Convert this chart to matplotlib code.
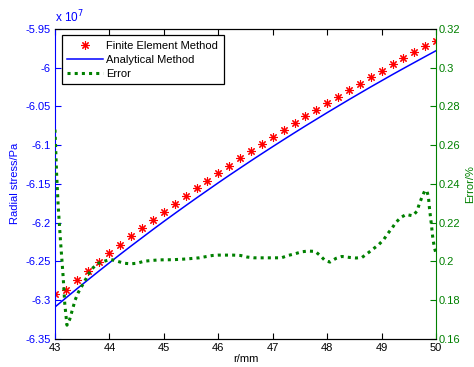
import numpy as np
import matplotlib
matplotlib.use('Agg')
from matplotlib import pyplot as plt
from matplotlib.ticker import FuncFormatter

plt.rcParams['font.family'] = ['Liberation Sans', 'DejaVu Sans']
plt.rcParams['axes.unicode_minus'] = False

# radius (mm) of the FE nodes and the analytical curve
r_nodes = [43.0, 43.2, 43.4, 43.6, 43.8, 44.0, 44.2, 44.4, 44.6, 44.8,
           45.0, 45.2, 45.4, 45.6, 45.8, 46.0, 46.2, 46.4, 46.6, 46.8,
           47.0, 47.2, 47.4, 47.6, 47.8, 48.0, 48.2, 48.4, 48.6, 48.8,
           49.0, 49.2, 49.4, 49.6, 49.8, 50.0]

# radial stress in units of 1e7 Pa
fem_stress = [-6.2922, -6.2867, -6.2743, -6.2623, -6.2505, -6.2393, -6.2285,
              -6.2177, -6.2071, -6.1965, -6.1861, -6.1759, -6.1658, -6.1558,
              -6.1459, -6.1361, -6.1265, -6.1172, -6.1079, -6.0987, -6.0896,
              -6.0806, -6.0716, -6.0627, -6.0542, -6.0459, -6.0374, -6.0290,
              -6.0208, -6.0124, -6.0042, -5.9958, -5.9876, -5.9799, -5.9714,
              -5.9658]
ana_stress = [-6.3090, -6.2973, -6.2857, -6.2743, -6.2630, -6.2519, -6.2409,
              -6.2301, -6.2195, -6.2089, -6.1985, -6.1883, -6.1782, -6.1682,
              -6.1584, -6.1486, -6.1390, -6.1296, -6.1202, -6.1110, -6.1019,
              -6.0929, -6.0840, -6.0752, -6.0666, -6.0580, -6.0496, -6.0412,
              -6.0330, -6.0248, -6.0168, -6.0088, -6.0010, -5.9933, -5.9856,
              -5.9780]

# relative error (%) between the two solutions
r_err = [43.00, 43.03, 43.06, 43.10, 43.15, 43.18, 43.22, 43.27, 43.32, 43.37,
         43.43, 43.49, 43.55, 43.67, 43.80, 43.90, 44.02, 44.15, 44.27, 44.39,
         44.51, 44.63, 44.76, 44.90, 45.02, 45.15, 45.28, 45.41, 45.53, 45.65,
         45.77, 45.89, 46.00, 46.15, 46.27, 46.41, 46.53, 46.66, 46.78, 46.91,
         47.03, 47.16, 47.28, 47.41, 47.53, 47.65, 47.78, 47.87, 47.96, 48.05,
         48.16, 48.27, 48.41, 48.53, 48.64, 48.75, 48.85, 48.95, 49.04, 49.11,
         49.19, 49.26, 49.35, 49.45, 49.57, 49.65, 49.69, 49.74, 49.79, 49.83,
         49.86, 49.88, 49.91, 49.94, 49.97, 50.00]
err = [0.268, 0.245, 0.228, 0.211, 0.192, 0.178, 0.167, 0.170, 0.175, 0.180,
       0.184, 0.187, 0.190, 0.196, 0.199, 0.200, 0.201, 0.200, 0.199, 0.1987,
       0.199, 0.200, 0.2004, 0.2007, 0.2008, 0.2008, 0.2010, 0.2012, 0.2015, 0.2018,
       0.2024, 0.2030, 0.2032, 0.2032, 0.2032, 0.2030, 0.2022, 0.2018, 0.2018, 0.2018,
       0.2018, 0.2018, 0.2030, 0.2039, 0.2049, 0.2053, 0.2051, 0.2030, 0.2004, 0.1996,
       0.2015, 0.2025, 0.2020, 0.2017, 0.2020, 0.2043, 0.2065, 0.2087, 0.2113, 0.2142,
       0.2171, 0.2200, 0.2226, 0.2242, 0.2235, 0.2259, 0.2295, 0.2331, 0.2363, 0.2366,
       0.2331, 0.2270, 0.2200, 0.2120, 0.2070, 0.2039]

x_ticks = [43, 44, 45, 46, 47, 48, 49, 50]
stress_ticks = [-6.35, -6.3, -6.25, -6.2, -6.15, -6.1, -6.05, -6.0, -5.95]
err_ticks = [0.16, 0.18, 0.2, 0.22, 0.24, 0.26, 0.28, 0.3, 0.32]

BLUE = (0, 0, 1)
GREEN = (0, 0.5, 0)
fs = 8

fig = plt.figure(figsize=(4.74, 3.67), dpi=100)
ax1 = fig.add_axes([0.116, 0.077, 0.804, 0.844])
ax2 = ax1.twinx()

l_fem, = ax1.plot(r_nodes, fem_stress, linestyle='none', marker=(8, 2, 0),
                  markersize=6, markeredgewidth=0.8, color='red',
                  label='Finite Element Method')
l_ana, = ax1.plot(r_nodes, ana_stress, color=BLUE, lw=1.1,
                  label='Analytical Method')
l_err, = ax2.plot(r_err, err, color=GREEN, lw=2.2, dashes=(1, 1.35),
                  dash_capstyle='butt', label='Error')

fmt = FuncFormatter(lambda v, p: '%g' % round(v, 4))

ax1.set_xlim(43, 50)
ax1.set_ylim(-6.35, -5.95)
ax1.set_xticks(x_ticks)
ax1.set_yticks(stress_ticks)
ax1.yaxis.set_major_formatter(fmt)
ax1.tick_params(axis='x', direction='in', length=4, top=True, labelsize=fs,
                colors='black', pad=3)
ax1.tick_params(axis='y', direction='in', length=4, labelsize=fs,
                colors=BLUE, pad=3)
ax1.spines['left'].set_color(BLUE)
ax1.spines['right'].set_visible(False)
ax1.set_xlabel('r/mm', fontsize=fs, labelpad=1)
ax1.set_ylabel('Radial stress/Pa', fontsize=fs, color=BLUE, labelpad=4)
ax1.text(0.0, 1.012, 'x 10$^{7}$', transform=ax1.transAxes, fontsize=fs + 0.5,
         color=BLUE, ha='left', va='bottom')

ax2.set_ylim(0.16, 0.32)
ax2.set_yticks(err_ticks)
ax2.yaxis.set_major_formatter(fmt)
ax2.tick_params(axis='y', direction='in', length=4, labelsize=fs,
                colors=GREEN, pad=2)
ax2.spines['right'].set_color(GREEN)
ax2.spines['left'].set_visible(False)
ax2.set_ylabel('Error/%', fontsize=fs, color=GREEN, labelpad=3)

leg = ax2.legend(handles=[l_fem, l_ana, l_err], loc='upper left',
                 bbox_to_anchor=(0.018, 0.98), fontsize=fs, frameon=True,
                 fancybox=False, edgecolor='black', framealpha=1,
                 handlelength=3.2, handletextpad=0.3, labelspacing=0.35,
                 borderpad=0.5, borderaxespad=0)
leg.get_frame().set_linewidth(0.9)

fig.savefig('out.png', dpi=100)
